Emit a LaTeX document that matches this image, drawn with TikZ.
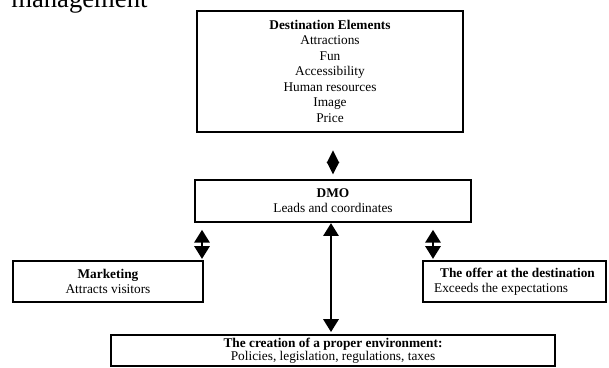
\documentclass[tikz,border=0pt]{standalone}
\usepackage{fontspec}
\setmainfont{Liberation Serif}
\usetikzlibrary{arrows.meta,positioning,calc}
\newdimen\pxu \pxu=0.75pt
\tikzset{
  box/.style={draw, line width=1.5pt, align=center, inner sep=0pt,
    font=\fontsize{10}{11.6}\selectfont},
  dbl/.style={line width=1.5pt, >={Triangle[length=9.6pt,width=11.5pt]}, <->},
  diam/.style={line width=1.5pt, >={Triangle[length=9.4pt,width=9pt]}, <->}
}

\begin{document}
\begin{tikzpicture}[x=0.75pt,y=-0.75pt]
\useasboundingbox (0,0) rectangle (609,367);
% heading cut off by the page
\node[anchor=base west, inner sep=0pt, font=\fontsize{20}{24}\selectfont] (head) at (11,8) {management};

\node[box, minimum width=266\pxu, minimum height=121\pxu] (elem) at (330,71.2)
  {\textbf{Destination Elements}\\Attractions\\Fun\\Accessibility\\Human resources\\Image\\Price};
\node[box, minimum width=276\pxu, minimum height=42\pxu] (dmo) at (333,200.5)
  {\textbf{DMO}\\Leads and coordinates};
\node[box, minimum width=190\pxu, minimum height=41.5\pxu] (mkt) at (108,281.7)
  {\textbf{Marketing}\\Attracts visitors};
\node[box, align=left, minimum width=183\pxu, minimum height=41.5\pxu] (offer) at (514.5,281.7)
  {\hspace*{4.5pt}\textbf{The offer at the destination}\\Exceeds the expectations};
\node[box, minimum width=444\pxu, minimum height=31\pxu, font=\fontsize{10}{9.6}\selectfont] (env) at (333,350.5)
  {\textbf{The creation of a proper environment:}\\Policies, legislation, regulations, taxes};

\coordinate (mktup) at ([xshift=-1.5pt]mkt.north east);
\coordinate (offup) at ([xshift=8.25pt]offer.north west);
\coordinate (mid) at ([xshift=-1.5pt]dmo.south);

\draw[diam, shorten <=13.2pt, shorten >=3pt] (dmo.north |- elem.south) -- (dmo.north);
\draw[dbl, shorten <=5.5pt, shorten >=0.8pt] (mktup |- dmo.south) -- (mktup);
\draw[dbl, shorten <=5.5pt, shorten >=0.8pt] (offup |- dmo.south) -- (offup);
\draw[dbl, shorten <=0.5pt, shorten >=1.5pt] (mid) -- (mid |- env.north);
\end{tikzpicture}
\end{document}
